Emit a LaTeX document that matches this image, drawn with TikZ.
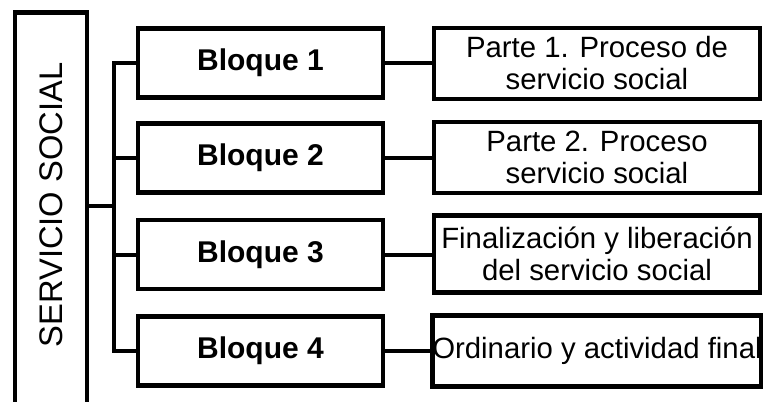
\documentclass[tikz,border=0pt]{standalone}
\usepackage{fontspec}
\setmainfont{Liberation Sans}
\usetikzlibrary{calc}

\tikzset{
	mainbox/.style={draw, line width=3.4pt, minimum width=54pt, minimum height=313pt, inner sep=0pt},
	blockbox/.style={draw, line width=3.4pt, minimum width=184pt, minimum height=52pt, inner sep=0pt, font=\fontsize{22.5}{24}\selectfont\bfseries},
	partbox/.style={draw, line width=3.4pt, minimum width=244.5pt, minimum height=53pt, inner sep=0pt, align=center, font=\fontsize{22}{24}\selectfont},
	link/.style={line width=3pt}
}

\begin{document}
\begin{tikzpicture}[x=0.75pt, y=-0.75pt]
		%%%%% START %%%%%
		
		\clip (0, 0) rectangle (763, 401);
		
		\node[mainbox] (main) at (51, 221) {};
		\node[rotate=90, font=\fontsize{24.5}{26}\selectfont] (maintext) at (51, 205) {SERVICIO SOCIAL};
		
		\node[blockbox] (b1) at (260.5, 63) {Bloque 1};
		\node[blockbox] (b2) at (260.5, 158) {Bloque 2};
		\node[blockbox] (b3) at (260.5, 254.5) {Bloque 3};
		\node[blockbox] (b4) at (260.5, 351) {Bloque 4};
		
		\node[partbox] (p1) at (597, 63.5) {Parte 1. Proceso de\\servicio social};
		\node[partbox] (p2) at (597, 157.5) {Parte 2. Proceso\\servicio social};
		\node[partbox, minimum height=58pt] (p3) at (597, 254) {Finalización y liberación\\del servicio social};
		\node[partbox] (p4) at (597, 351) {Ordinario y actividad final};
		
		\coordinate (hub) at (114, 206);
		\draw[link] (main.east |- hub) -- (hub);
		\draw[link] (b1.west) -- (hub |- b1.west) -- (hub |- b4.west) -- (b4.west);
		\draw[link] (hub |- b2.west) -- (b2.west);
		\draw[link] (hub |- b3.west) -- (b3.west);
		
		\draw[link] (b1.east) -- (b1.east -| p1.west);
		\draw[link] (b2.east) -- (b2.east -| p2.west);
		\draw[link] (b3.east) -- (b3.east -| p3.west);
		\draw[link] (b4.east) -- (b4.east -| p4.west);
		
		%%%%% END %%%%%
	\end{tikzpicture}
\end{document}
